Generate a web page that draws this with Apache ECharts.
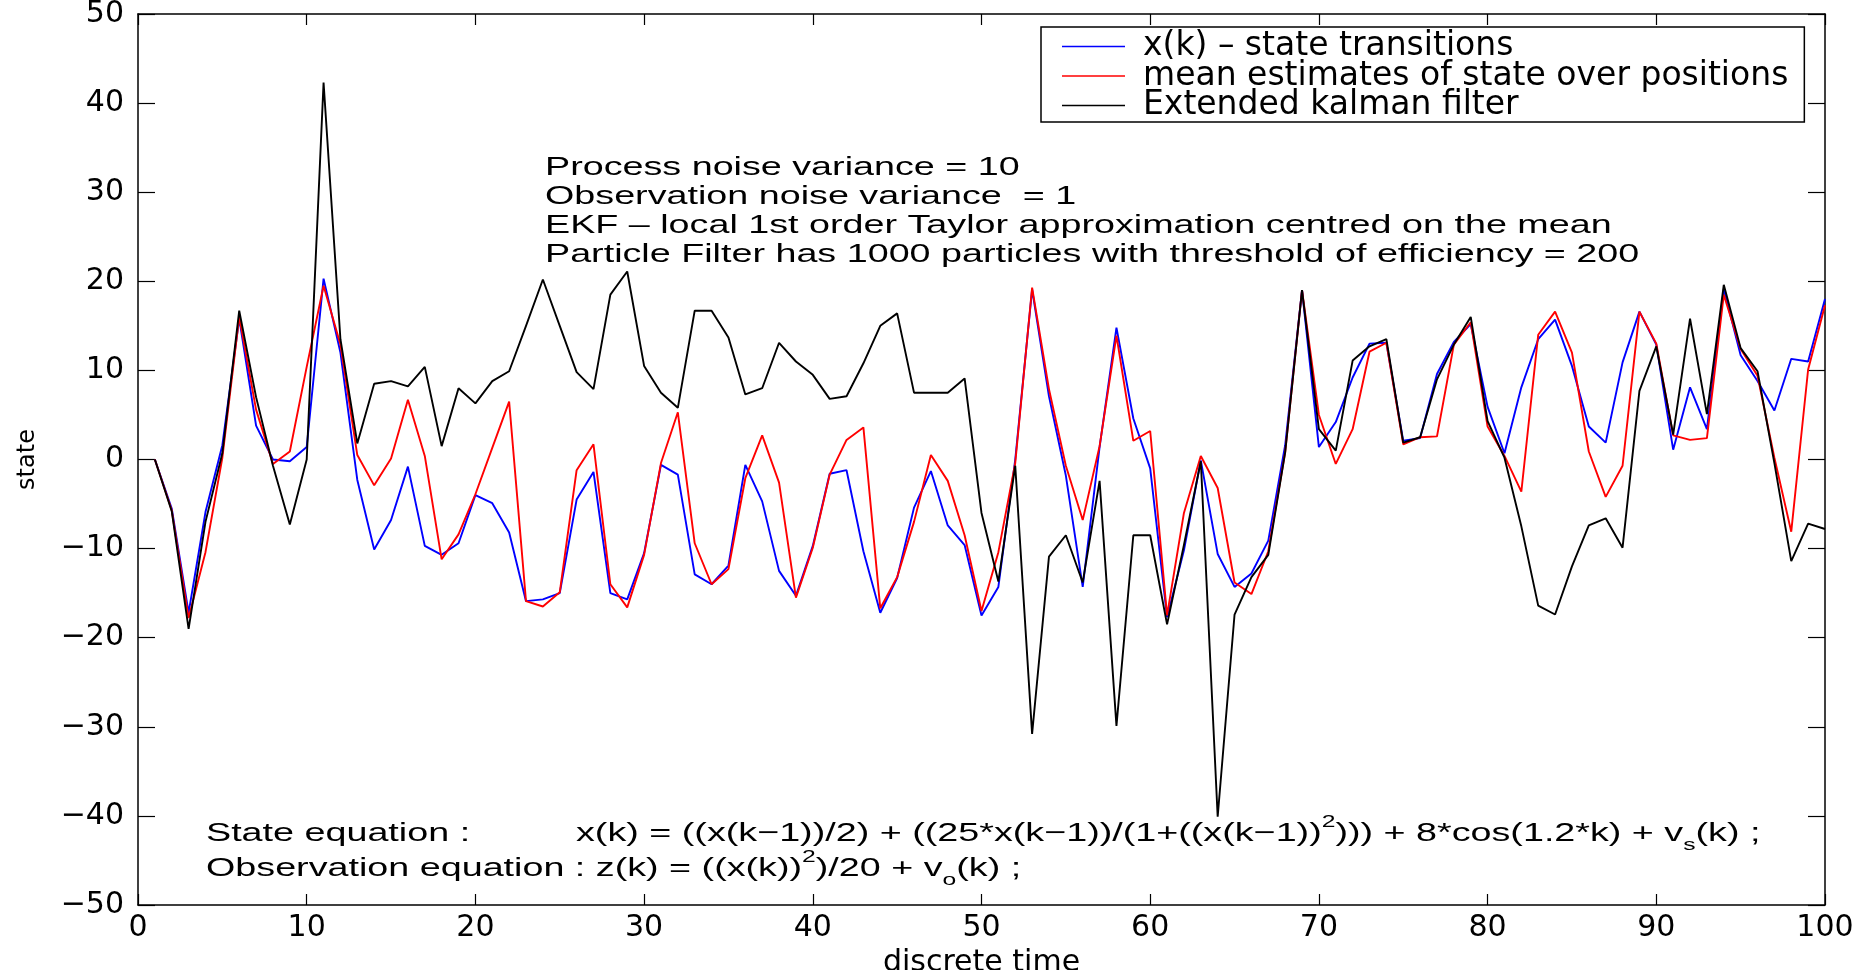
<!DOCTYPE html>
<html lang="en">
<head>
    <meta content="text/html; charset=utf-8" http-equiv="Content-Type"/>
    <title>state</title>
    <script src="https://cdn.jsdelivr.net/npm/echarts@6/dist/echarts.min.js"></script>
    <style>
        html, body { margin: 0; padding: 0; background: #fff; }
        #main { width: 1870px; height: 970px; }
    </style>
</head>
<body>
<div id="main"></div>
<script>
    // 图例名称
    var seriesNames = ['x(k) – state transitions', 'mean estimates of state over positions', 'Extended kalman filter'];

    // x(k) 真实状态, k = 1..100
    var stateTrue = [
        0, -5.5, -17.2, -5.9, 1.6, 15.8, 3.8, 0, -0.2, 1.4,
        20.3, 12.0, -2.3, -10.1, -6.8, -0.8, -9.7, -10.7, -9.4, -4.0,
        -4.9, -8.2, -15.9, -15.7, -15.0, -4.5, -1.4, -15.0, -15.7, -10.5,
        -0.6, -1.7, -12.9, -14.0, -11.9, -0.6, -4.7, -12.5, -15.3, -9.7,
        -1.6, -1.2, -10.3, -17.2, -13.3, -5.4, -1.3, -7.4, -9.6, -17.5,
        -14.3, 0, 19.1, 7.1, -1.8, -14.3, 1.4, 14.8, 4.6, -1.0,
        -17.7, -10.2, -0.1, -10.6, -14.3, -12.8, -9.1, 1.6, 19.0, 1.4,
        4.2, 9.2, 13.0, 13.1, 2.1, 2.4, 9.6, 13.2, 15.2, 5.9,
        0.7, 8.1, 13.5, 15.7, 10.5, 3.7, 1.9, 10.9, 16.6, 12.9,
        1.1, 8.1, 3.4, 19.1, 11.7, 8.8, 5.5, 11.3, 11.0, 18.0
    ];

    // 粒子滤波均值估计
    var pfMean = [
        0, -5.7, -17.8, -10.4, 0.2, 16.0, 5.6, -0.5, 0.9, 10.4,
        19.5, 12.9, 0.5, -2.9, 0.1, 6.7, 0.4, -11.2, -8.4, -3.9,
        1.3, 6.5, -15.9, -16.5, -14.9, -1.2, 1.7, -14.0, -16.6, -10.7,
        -0.4, 5.3, -9.4, -14.0, -12.3, -2.1, 2.7, -2.6, -15.5, -9.9,
        -1.7, 2.2, 3.6, -16.7, -13.2, -7.0, 0.5, -2.4, -8.5, -17.0,
        -10.4, -0.4, 19.3, 7.9, -0.7, -6.8, 1.5, 13.9, 2.1, 3.2,
        -17.5, -6.0, 0.4, -3.2, -13.8, -15.1, -10.3, 0.8, 19.0, 5.0,
        -0.5, 3.4, 12.1, 13.1, 1.7, 2.5, 2.6, 12.9, 15.4, 3.7,
        0.4, -3.6, 14.0, 16.6, 12.0, 0.9, -4.2, -0.7, 16.6, 13.0,
        2.7, 2.2, 2.4, 18.5, 12.4, 9.4, 0.2, -8.1, 10.1, 17.3
    ];

    // 扩展卡尔曼滤波
    var ekf = [
        0, -5.8, -19.0, -7.0, 0.7, 16.7, 7.0, -0.7, -7.3, 0,
        42.3, 13.5, 1.8, 8.5, 8.8, 8.2, 10.4, 1.5, 8.0, 6.3,
        8.8, 9.9, 15.0, 20.2, 15.0, 9.8, 7.9, 18.5, 21.1, 10.5,
        7.5, 5.8, 16.7, 16.7, 13.7, 7.3, 8.0, 13.1, 11.0, 9.5,
        6.8, 7.1, 10.8, 15.0, 16.4, 7.5, 7.5, 7.5, 9.1, -6.0,
        -13.7, -0.7, -30.8, -10.9, -8.5, -13.8, -2.4, -29.9, -8.5, -8.5,
        -18.5, -9.6, -0.2, -40.1, -17.4, -13.2, -10.7, 0.8, 19.0, 3.4,
        1.0, 11.1, 12.7, 13.5, 1.9, 2.5, 9.0, 12.9, 16.0, 4.3,
        0.2, -7.5, -16.4, -17.4, -12.0, -7.4, -6.6, -9.9, 7.7, 12.7,
        2.8, 15.8, 5.1, 19.6, 12.5, 9.9, -0.4, -11.4, -7.2, -7.8
    ];

    var noteLines = [
        'Process noise variance = 10',
        'Observation noise variance  = 1',
        'EKF – local 1st order Taylor approximation centred on the mean',
        'Particle Filter has 1000 particles with threshold of efficiency = 200'
    ];

    function toPairs(arr) {
        var out = [];
        for (var i = 0; i < arr.length; i++) {
            out.push([i + 1, arr[i]]);
        }
        return out;
    }

    function minusSign(v) {
        return String(v).replace('-', '\u2212');
    }

    var labelFont = 'DejaVu Sans';
    var textFont = 'Liberation Sans';
    var stretch = 1.45;

    var myChart = echarts.init(document.getElementById('main'));

    var axisLineStyle = {color: '#000', width: 1.5};
    var eqRich = {
        sup: {fontFamily: textFont, fontSize: 17, lineHeight: 17, verticalAlign: 'top'},
        sub: {fontFamily: textFont, fontSize: 17, lineHeight: 17, verticalAlign: 'bottom'}
    };

    var option = {
        animation: false,
        backgroundColor: '#fff',
        grid: {left: 138, right: 45, top: 14, bottom: 65, containLabel: false, outerBoundsMode: 'none'},
        legend: {
            data: seriesNames,
            orient: 'vertical',
            left: 1041,
            top: 27,
            padding: [3, 16, 0, 21],
            icon: 'rect',
            itemWidth: 63,
            itemHeight: 1.5,
            itemGap: -3.5,
            backgroundColor: '#fff',
            borderColor: '#000',
            borderWidth: 1.5,
            borderRadius: 0,
            textStyle: {fontFamily: labelFont, fontSize: 33, color: '#000', padding: [0, 0, 0, 13]}
        },
        xAxis: [{
            type: 'value', min: 0, max: 100, interval: 10, position: 'bottom',
            name: 'discrete time', nameLocation: 'middle', nameGap: 31,
            nameTextStyle: {fontFamily: labelFont, fontSize: 30, color: '#000'},
            axisLine: {onZero: false, lineStyle: axisLineStyle},
            axisTick: {inside: true, length: 11, lineStyle: {color: '#000', width: 1.2}},
            axisLabel: {color: '#000', fontFamily: labelFont, fontSize: 30, margin: 8},
            splitLine: {show: false}
        }, {
            type: 'value', min: 0, max: 100, interval: 10, position: 'top',
            axisLine: {onZero: false, lineStyle: axisLineStyle},
            axisTick: {inside: true, length: 11, lineStyle: {color: '#000', width: 1.2}},
            axisLabel: {show: false},
            splitLine: {show: false}
        }],
        yAxis: [{
            type: 'value', min: -50, max: 50, interval: 10, position: 'left',
            name: 'state', nameLocation: 'middle', nameGap: 98, nameRotate: 90,
            nameTextStyle: {fontFamily: labelFont, fontSize: 24, color: '#000'},
            axisLine: {onZero: false, lineStyle: axisLineStyle},
            axisTick: {inside: true, length: 17, lineStyle: {color: '#000', width: 1.2}},
            axisLabel: {color: '#000', fontFamily: labelFont, fontSize: 30, margin: 14, formatter: minusSign},
            splitLine: {show: false}
        }, {
            type: 'value', min: -50, max: 50, interval: 10, position: 'right',
            axisLine: {onZero: false, lineStyle: axisLineStyle},
            axisTick: {inside: true, length: 17, lineStyle: {color: '#000', width: 1.2}},
            axisLabel: {show: false},
            splitLine: {show: false}
        }],
        series: [{
            name: seriesNames[0], type: 'line', data: toPairs(stateTrue),
            symbol: 'none', color: '#0000ff', lineStyle: {width: 1.9, color: '#0000ff'}
        }, {
            name: seriesNames[1], type: 'line', data: toPairs(pfMean),
            symbol: 'none', color: '#ff0000', lineStyle: {width: 1.9, color: '#ff0000'}
        }, {
            name: seriesNames[2], type: 'line', data: toPairs(ekf),
            symbol: 'none', color: '#000000', lineStyle: {width: 1.9, color: '#000000'}
        }],
        graphic: [{
            type: 'text', x: 545, y: 153, scaleX: stretch, z: 10,
            style: {
                text: noteLines.join('\n'), fill: '#000',
                fontFamily: textFont, fontSize: 26, lineHeight: 29,
                align: 'left', verticalAlign: 'top', textAlign: 'left', textVerticalAlign: 'top'
            }
        }, {
            type: 'text', x: 206, y: 834, scaleX: stretch, z: 10,
            style: {
                text: 'State equation :', fill: '#000',
                fontFamily: textFont, fontSize: 26,
                align: 'left', verticalAlign: 'middle', textAlign: 'left', textVerticalAlign: 'middle'
            }
        }, {
            type: 'text', x: 576, y: 834, scaleX: stretch, z: 10,
            style: {
                text: 'x(k) = ((x(k\u22121))/2) + ((25*x(k\u22121))/(1+((x(k\u22121)){sup|2}))) + 8*cos(1.2*k) + v{sub|s}(k) ;',
                fill: '#000', fontFamily: textFont, fontSize: 26, lineHeight: 40,
                align: 'left', verticalAlign: 'middle', textAlign: 'left', textVerticalAlign: 'middle',
                rich: eqRich
            }
        }, {
            type: 'text', x: 206, y: 869, scaleX: stretch, z: 10,
            style: {
                text: 'Observation equation : z(k) = ((x(k)){sup|2})/20 + v{sub|o}(k) ;',
                fill: '#000', fontFamily: textFont, fontSize: 26, lineHeight: 40,
                align: 'left', verticalAlign: 'middle', textAlign: 'left', textVerticalAlign: 'middle',
                rich: eqRich
            }
        }]
    };

    myChart.setOption(option);
</script>
</body>
</html>
